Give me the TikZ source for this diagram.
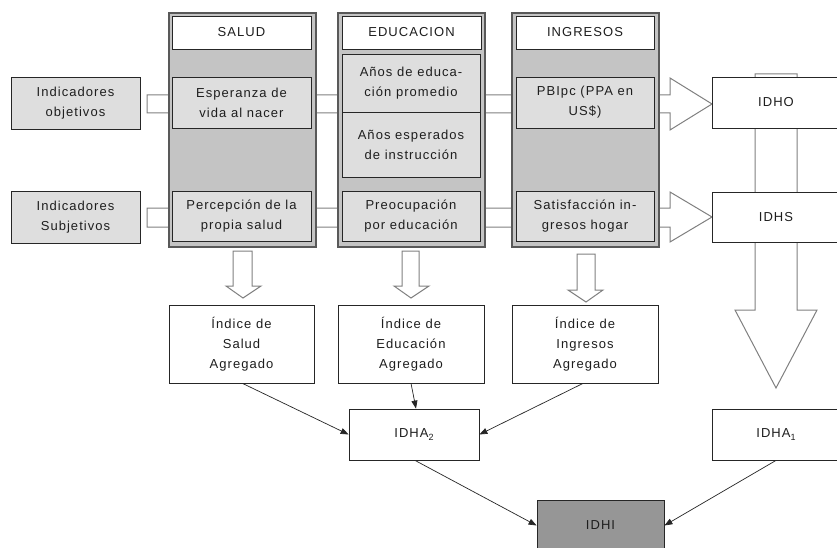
\documentclass[tikz,border=0pt]{standalone}
\usepackage{fontspec}
\setmainfont{Liberation Sans}
\newfontfamily\lsf[LetterSpace=8]{Liberation Sans}
\usetikzlibrary{arrows.meta}
\definecolor{colfill}{HTML}{C4C4C4}
\definecolor{inbox}{HTML}{DEDEDE}
\definecolor{idhi}{HTML}{969696}
\definecolor{arrline}{HTML}{808080}
\definecolor{txt}{HTML}{1E1E1E}
\newcommand\bx[7]{\node[#2, minimum width={#5pt-#3pt}, minimum height={#6pt-#4pt}] (#1) at ({(#3+#5)/2},{(#4+#6)/2}) {#7};}
\newcommand\subs[1]{\raisebox{-0.35ex}{\fontsize{9}{9}\selectfont #1}}
\tikzset{
  base/.style={inner sep=0pt, align=center, text=txt, font=\lsf\fontsize{13}{20}\selectfont},
  colbox/.style={base, draw=black!65, fill=colfill, line width=1.3pt},
  hdrbox/.style={base, draw=black!85, fill=white, line width=0.8pt},
  inbx/.style={base, draw=black!85, fill=inbox, line width=0.8pt},
  whbox/.style={base, draw=black!85, fill=white, line width=0.8pt},
  grbox/.style={base, draw=black!85, fill=idhi, line width=0.8pt},
  blockarr/.style={draw=arrline, fill=white, line width=1pt, line join=miter},
  conn/.style={draw=black!85, line width=0.7pt, -{Triangle[length=8pt,width=6pt]}}
}
\begin{document}
\begin{tikzpicture}[x=1pt,y=-1pt]
\clip (0,0) rectangle (837,548);
\fill[white] (0,0) rectangle (837,548);
% big block arrows (behind)
\draw[blockarr] (147,95) -- (670,95) -- (670,78) -- (712,104) -- (670,130) -- (670,113) -- (147,113) -- cycle;
\draw[blockarr] (147,208) -- (670,208) -- (670,192) -- (712,217) -- (670,242) -- (670,227) -- (147,227) -- cycle;
\draw[blockarr] (755,74) -- (797,74) -- (797,310) -- (817,310) -- (776,388) -- (735,310) -- (755,310) -- cycle;
% down arrows
\draw[blockarr] (233,251) -- (252,251) -- (252,286) -- (261,286) -- (243,298) -- (226,286) -- (233,286) -- cycle;
\draw[blockarr] (402,251) -- (419,251) -- (419,286) -- (429,286) -- (411,298) -- (394,286) -- (402,286) -- cycle;
\draw[blockarr] (577,254) -- (595,254) -- (595,290) -- (603,290) -- (586,302) -- (568,290) -- (577,290) -- cycle;
% columns
\bx{colS}{colbox}{169}{13}{316}{247}{}
\bx{colE}{colbox}{338}{13}{485}{247}{}
\bx{colI}{colbox}{512}{13}{659}{247}{}
\bx{hS}{hdrbox}{172}{16}{311}{49}{SALUD}
\bx{hE}{hdrbox}{342}{16}{481}{49}{EDUCACION}
\bx{hI}{hdrbox}{516}{16}{654}{49}{INGRESOS}
\bx{esp}{inbx}{172}{77}{311}{128}{Esperanza de\\vida al nacer}
\bx{perc}{inbx}{172}{191}{311}{241}{Percepción de la\\propia salud}
\bx{anosed}{inbx}{342}{54}{480}{112}{Años de educa-\\ción promedio}
\bx{anosesp}{inbx}{342}{112}{480}{177}{Años esperados\\de instrucción}
\bx{preoc}{inbx}{342}{191}{480}{241}{Preocupación\\por educación}
\bx{pbi}{inbx}{516}{77}{654}{128}{PBIpc (PPA en\\US\$)}
\bx{satis}{inbx}{516}{191}{654}{241}{Satisfacción in-\\gresos hogar}
% indicators
\bx{indO}{inbx}{11}{77}{140}{129}{Indicadores\\objetivos}
\bx{indS}{inbx}{11}{191}{140}{243}{Indicadores\\Subjetivos}
% right side
\bx{idho}{whbox}{712}{77}{840}{128}{IDHO}
\bx{idhs}{whbox}{712}{192}{840}{242}{IDHS}
% indices
\bx{iS}{whbox}{169}{305}{314}{383}{Índice de\\Salud\\Agregado}
\bx{iE}{whbox}{338}{305}{484}{383}{Índice de\\Educación\\Agregado}
\bx{iI}{whbox}{512}{305}{658}{383}{Índice de\\Ingresos\\Agregado}
\bx{idha2}{whbox}{349}{409}{479}{460}{IDHA\subs{2}}
\bx{idha1}{whbox}{712}{409}{840}{460}{IDHA\subs{1}}
\bx{idhi}{grbox}{537}{500}{664}{551}{IDHI}
% connectors
\draw[conn] ([xshift=1pt]iS.south) -- (idha2.west);
\draw[conn] ([xshift=0pt]iE.south) -- ([xshift=2pt]idha2.north);
\draw[conn] ([xshift=-2pt]iI.south) -- (idha2.east);
\draw[conn] ([xshift=1pt]idha2.south) -- (idhi.west);
\draw[conn] (idha1.south) -- (idhi.east);
\end{tikzpicture}
\end{document}
